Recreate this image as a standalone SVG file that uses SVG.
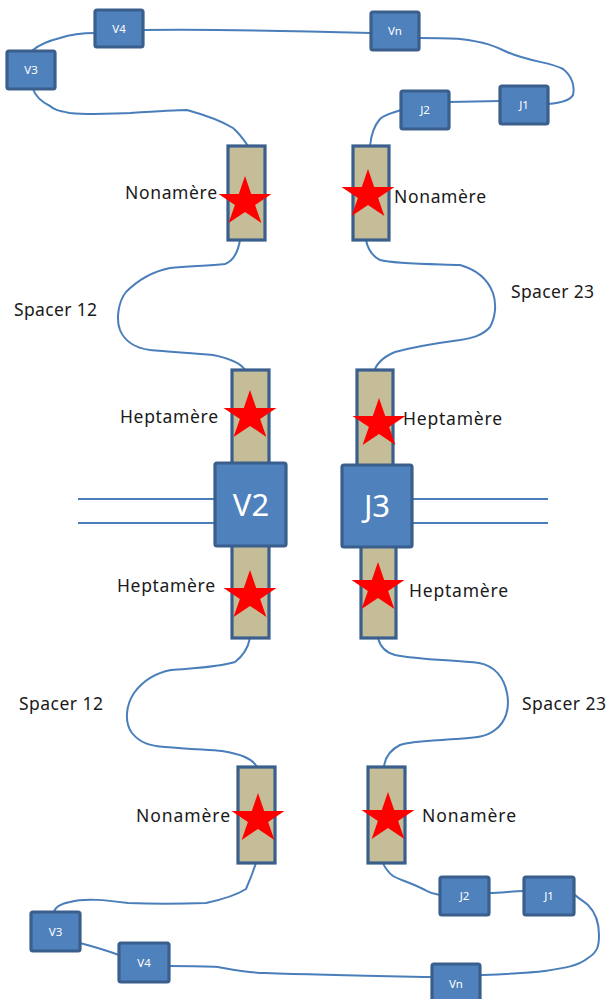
<svg xmlns="http://www.w3.org/2000/svg" width="607" height="999" viewBox="0 0 607 999">
  <style>
    .seg { fill: #4F81BD; stroke: #3A5F8C; stroke-width: 3.2; }
    .rss { fill: #C4BD97; stroke: #3A5F8C; stroke-width: 3.2; }
    .seg-label { font-family: "Noto Sans", "Open Sans", sans-serif; font-size: 11.5px; fill: #FFFFFF; text-anchor: middle; }
    .big-label { font-family: "Noto Sans", "Open Sans", sans-serif; font-size: 31px; fill: #FFFFFF; text-anchor: middle; }
    .label { font-family: "Noto Sans", "Open Sans", sans-serif; font-size: 17.5px; fill: #1A1A1A; }
    .wire { fill: none; stroke: #4A7EBB; stroke-width: 2; stroke-linecap: round; stroke-linejoin: round; }
    .dna { fill: none; stroke: #4A7EBB; stroke-width: 2; }
    .star { fill: #FF0000; }
  </style>
  <defs>
    <path id="star5" d="M0,-26 L6.2,-8 L26.5,-8 L10.1,3.1 L16.4,21 L0,9.9 L-16.4,21 L-10.1,3.1 L-26.5,-8 L-6.2,-8 Z"/>
  </defs>

  <rect width="607" height="999" fill="#FFFFFF"/>

  <!-- connecting DNA strands -->
  <g id="connectors">
    <!-- upper loop -->
    <path class="wire" d="M33,50 C40,44 48,41 60,38 C72,34 85,33 95,33"/>
    <path class="wire" d="M143,30 C220,29 300,31 371,33"/>
    <path class="wire" d="M419,38 C440,38 450,38 460,39 C485,42 495,46 507,52 C530,62 550,62 563,69 C572,76 575,86 573,95 C570,101 560,103 548,104"/>
    <path class="wire" d="M449,102 L500,101"/>
    <path class="wire" d="M401,110 C393,113 385,114 380,119 C373,127 371,136 370,146"/>
    <path class="wire" d="M33,89 C36,98 44,103 50,106 C54,110 60,111 70,113 C90,115 100,114 130,113 C160,111 175,110 187,110 C205,115 220,120 233,128 C240,134 244,140 248,146"/>
    <!-- spacer 12, upper -->
    <path class="wire" d="M240,240 C238,252 233,261 225,264 C210,266 190,266 170,268 C150,272 136,282 126,292 C118,302 116,320 120,330 C125,342 135,348 150,350 C170,352 195,353 213,355 C228,358 240,362 245,370"/>
    <!-- spacer 23, upper -->
    <path class="wire" d="M366,240 C368,250 372,256 380,260 C395,264 430,264 460,265 C478,270 488,280 493,293 C497,305 495,318 490,327 C482,336 472,338 460,340 C430,344 410,348 395,352 C383,357 375,364 373,375"/>
    <!-- spacer 12, lower -->
    <path class="wire" d="M250,638 C248,648 243,656 235,662 C215,668 190,668 171,670 C155,673 142,682 134,693 C126,705 124,722 132,733 C140,743 150,746 165,747 C190,749 210,750 222,751 C240,754 252,758 257,767"/>
    <!-- spacer 23, lower -->
    <path class="wire" d="M378,638 C380,646 384,652 395,655 C420,660 455,660 479,663 C495,666 504,678 507,693 C510,708 506,722 495,730 C485,738 470,738 455,739 C430,741 412,741 400,745 C390,750 385,757 384,767"/>
    <!-- lower loop -->
    <path class="wire" d="M256,863 C253,872 250,880 246,889 C235,896 220,900 206,903 C180,904 150,904 128,903 C105,900 85,898 70,902 C60,904 55,907 54,912"/>
    <path class="wire" d="M80,943 C95,947 108,951 119,955"/>
    <path class="wire" d="M169,966 C190,966 205,966 218,967 C235,970 250,973 265,973 C320,975 380,976 432,977"/>
    <path class="wire" d="M481,975 C505,974 530,973 545,971 C565,968 578,966 588,958 C598,952 599,945 599,935 C599,922 595,912 588,905 C582,900 578,898 575,895"/>
    <path class="wire" d="M489,893 C502,893 512,891 524,891"/>
    <path class="wire" d="M440,895 C433,894 430,893 425,890 C412,883 400,880 393,876 C388,872 385,868 383,863"/>
    <!-- double strand through the coding segments -->
    <path class="dna" d="M78,499 H215 M78,523 H215"/>
    <path class="dna" d="M412,499 H548 M412,523 H548"/>
  </g>

  <!-- upper gene segments -->
  <g id="v4-top"><rect class="seg" x="95" y="10" width="48" height="37" rx="2"/><text class="seg-label" x="119" y="32.5">V4</text></g>
  <g id="v3-top"><rect class="seg" x="7" y="51" width="48" height="38" rx="2"/><text class="seg-label" x="31" y="74">V3</text></g>
  <g id="vn-top"><rect class="seg" x="371" y="12" width="48" height="38" rx="2"/><text class="seg-label" x="395" y="35">Vn</text></g>
  <g id="j2-top"><rect class="seg" x="401" y="91" width="48" height="38" rx="2"/><text class="seg-label" x="425" y="114">J2</text></g>
  <g id="j1-top"><rect class="seg" x="500" y="86" width="48" height="38" rx="2"/><text class="seg-label" x="524" y="109">J1</text></g>

  <!-- upper signal sequences -->
  <g id="nonamer-top-left">
    <rect class="rss" x="228" y="146" width="37" height="94"/>
    <use href="#star5" class="star" x="245" y="202"/>
    <text class="label" x="125" y="199" textLength="92">Nonamère</text>
  </g>
  <g id="nonamer-top-right">
    <rect class="rss" x="353" y="146" width="36" height="94"/>
    <use href="#star5" class="star" x="368" y="195"/>
    <text class="label" x="394" y="203" textLength="92">Nonamère</text>
  </g>
  <g id="spacer12-top"><text class="label" x="14" y="316" textLength="83">Spacer 12</text></g>
  <g id="spacer23-top"><text class="label" x="511" y="298" textLength="83">Spacer 23</text></g>
  <g id="heptamer-top-left">
    <rect class="rss" x="232" y="370" width="37" height="95"/>
    <use href="#star5" class="star" x="250" y="416"/>
    <text class="label" x="120" y="423" textLength="98">Heptamère</text>
  </g>
  <g id="heptamer-top-right">
    <rect class="rss" x="357" y="370" width="36" height="97"/>
    <use href="#star5" class="star" x="379" y="424"/>
    <text class="label" x="403" y="425" textLength="99">Heptamère</text>
  </g>

  <!-- lower signal sequences -->
  <g id="heptamer-bottom-left">
    <rect class="rss" x="232" y="544" width="37" height="94"/>
    <use href="#star5" class="star" x="250" y="596"/>
    <text class="label" x="117" y="592" textLength="98">Heptamère</text>
  </g>
  <g id="heptamer-bottom-right">
    <rect class="rss" x="361" y="545" width="35" height="93"/>
    <use href="#star5" class="star" x="378" y="588"/>
    <text class="label" x="409" y="597" textLength="99">Heptamère</text>
  </g>

  <!-- joined coding segments -->
  <g id="v2"><rect class="seg" x="215" y="463" width="71" height="83" rx="2"/><text class="big-label" x="251" y="516">V2</text></g>
  <g id="j3"><rect class="seg" x="342" y="465" width="70" height="82" rx="2"/><text class="big-label" x="377" y="517">J3</text></g>

  <g id="spacer12-bottom"><text class="label" x="19" y="710" textLength="84">Spacer 12</text></g>
  <g id="spacer23-bottom"><text class="label" x="522" y="710" textLength="84">Spacer 23</text></g>
  <g id="nonamer-bottom-left">
    <rect class="rss" x="238" y="767" width="37" height="96"/>
    <use href="#star5" class="star" x="258" y="819"/>
    <text class="label" x="136" y="822" textLength="94">Nonamère</text>
  </g>
  <g id="nonamer-bottom-right">
    <rect class="rss" x="368" y="767" width="37" height="96"/>
    <use href="#star5" class="star" x="388" y="818"/>
    <text class="label" x="422" y="822" textLength="94">Nonamère</text>
  </g>

  <!-- lower gene segments -->
  <g id="v3-bottom"><rect class="seg" x="31" y="912" width="49" height="39" rx="2"/><text class="seg-label" x="55.5" y="935.5">V3</text></g>
  <g id="v4-bottom"><rect class="seg" x="119" y="943" width="50" height="39" rx="2"/><text class="seg-label" x="144" y="966.5">V4</text></g>
  <g id="vn-bottom"><rect class="seg" x="432" y="964" width="48" height="40" rx="2"/><text class="seg-label" x="456" y="988">Vn</text></g>
  <g id="j2-bottom"><rect class="seg" x="440" y="877" width="49" height="38" rx="2"/><text class="seg-label" x="464.5" y="900">J2</text></g>
  <g id="j1-bottom"><rect class="seg" x="524" y="877" width="50" height="38" rx="2"/><text class="seg-label" x="549" y="900">J1</text></g>
</svg>
